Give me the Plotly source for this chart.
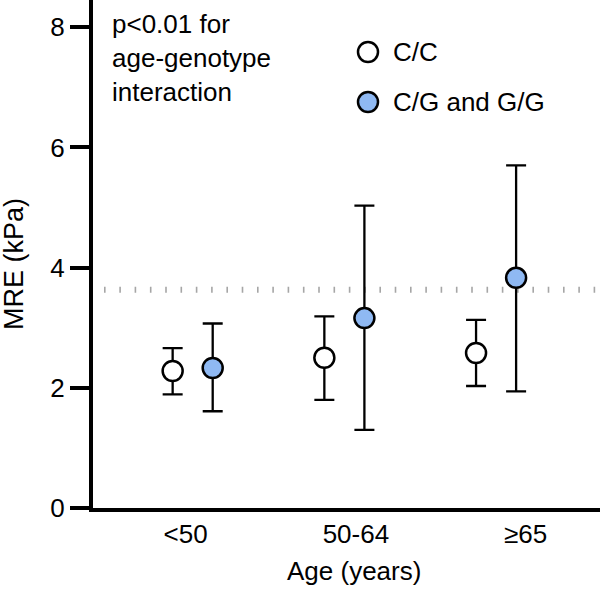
import plotly.graph_objects as go

# ---- data ----
age_groups = ["<50", "50-64", "\u226565"]
cc_mean = [2.28, 2.50, 2.58]
cc_upper = [2.66, 3.19, 3.13]
cc_lower = [1.89, 1.80, 2.03]
cg_mean = [2.33, 3.16, 3.83]
cg_upper = [3.07, 5.03, 5.70]
cg_lower = [1.61, 1.30, 1.94]
reference_level = 3.63
series_names = ["C/C", "C/G and G/G"]

# ---- layout constants ----
W, H = 600, 590
ML, MR, MT, MB = 93, 0, 0, 82
PW, PH = W - ML - MR, H - MT - MB
FONT = "Liberation Sans, Arial, Helvetica, sans-serif"
FS = 26
BLUE = "#8fb9f3"
dodge = 0.132
idx = list(range(len(age_groups)))
x_range = [-0.657, 2.685]
tick_pos = [-0.047, 1.076, 2.194]
y_top = PH / 60.1


def px_x(p):
    return (p - ML) / PW


def px_y(p):
    return 1 - (p - MT) / PH


fig = go.Figure()


def add_series(mean, upper, lower, shift, fill, name):
    fig.add_trace(go.Scatter(
        x=[i + shift for i in idx], y=mean, mode="markers", name=name,
        showlegend=False, hoverinfo="skip",
        marker=dict(size=20, color=fill, line=dict(color="black", width=2.5)),
        error_y=dict(type="data", symmetric=False,
                     array=[u - m for u, m in zip(upper, mean)],
                     arrayminus=[m - l for m, l in zip(mean, lower)],
                     color="black", thickness=2.3, width=10),
    ))


add_series(cc_mean, cc_upper, cc_lower, -dodge, "white", series_names[0])
add_series(cg_mean, cg_upper, cg_lower, dodge, BLUE, series_names[1])

# dotted reference line
fig.add_shape(type="line", xref="paper", yref="y", x0=px_x(104), x1=1,
              y0=reference_level, y1=reference_level,
              line=dict(color="#a6a6a6", width=6, dash="1.6px,13.7px"), layer="below")

# custom legend
for name, fill, ypix in [(series_names[0], "white", 52), (series_names[1], BLUE, 102)]:
    fig.add_shape(type="circle", xref="paper", yref="paper",
                  xsizemode="pixel", ysizemode="pixel",
                  xanchor=px_x(368), yanchor=px_y(ypix),
                  x0=-10, x1=10, y0=-10, y1=10,
                  line=dict(color="black", width=2.5), fillcolor=fill)
    fig.add_annotation(text=name, xref="paper", yref="paper", x=px_x(391), y=px_y(ypix),
                       xanchor="left", yanchor="middle", showarrow=False,
                       font=dict(family=FONT, size=FS, color="black"))

# p-value note
fig.add_annotation(text="p<0.01 for<br>age-genotype<br>interaction", xref="paper", yref="paper",
                   x=px_x(110), y=px_y(7), xanchor="left", yanchor="top", align="left",
                   showarrow=False, font=dict(family=FONT, size=FS, color="black"))

# axis titles
fig.add_annotation(text="MRE (kPa)", xref="paper", yref="paper", x=px_x(14), y=px_y(264),
                   textangle=-90, xanchor="center", yanchor="middle", showarrow=False,
                   font=dict(family=FONT, size=27, color="black"))
fig.add_annotation(text="Age (years)", xref="paper", yref="paper", x=px_x(354), y=px_y(571),
                   xanchor="center", yanchor="middle", showarrow=False,
                   font=dict(family=FONT, size=FS, color="black"))

fig.update_layout(
    width=W, height=H, margin=dict(l=ML, r=MR, t=MT, b=MB),
    paper_bgcolor="white", plot_bgcolor="white",
    font=dict(family=FONT, size=FS, color="black"),
    xaxis=dict(range=x_range, tickvals=tick_pos, ticktext=age_groups,
               showgrid=False, zeroline=False, showline=True, linecolor="black",
               linewidth=4, ticks="", tickfont=dict(size=FS)),
    yaxis=dict(range=[0, y_top], tickvals=[0, 2, 4, 6, 8], showgrid=False, zeroline=False,
               showline=True, linecolor="black", linewidth=4, ticks="outside",
               ticklen=19, tickwidth=4, tickcolor="black", tickfont=dict(size=FS)),
)

fig.write_html("out.html", config={"displayModeBar": False},
               post_script="document.body.style.margin='0px';document.body.style.overflow='hidden';")
